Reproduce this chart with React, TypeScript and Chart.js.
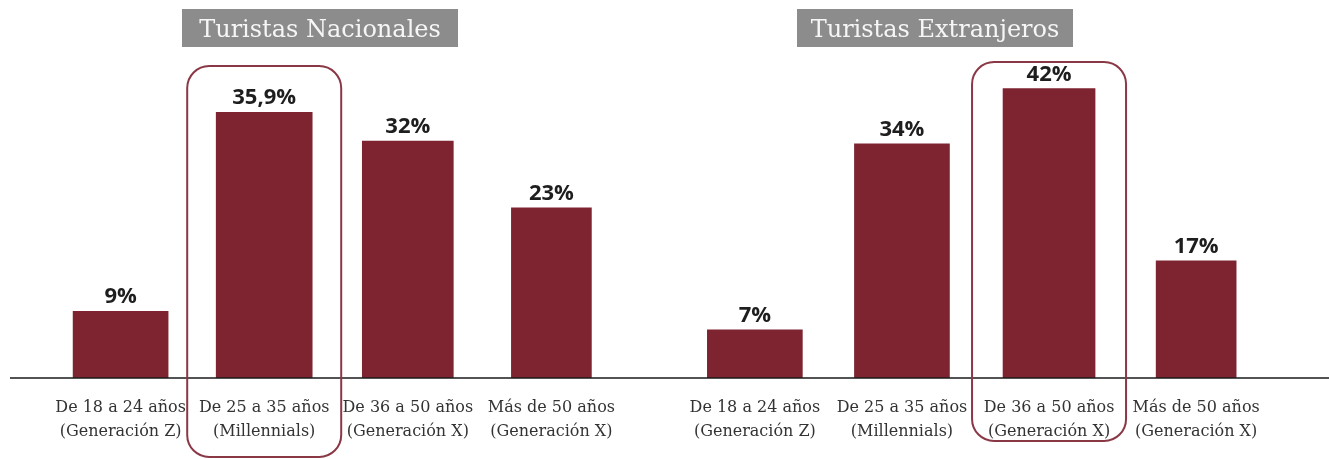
import React, { useEffect, useRef } from "react";
import { Chart, registerables } from "chart.js";

Chart.register(...registerables);

// ---------- data ----------
const categories: string[][] = [
  ["De 18 a 24 años", "(Generación Z)"],
  ["De 25 a 35 años", "(Millennials)"],
  ["De 36 a 50 años", "(Generación X)"],
  ["Más de 50 años", "(Generación X)"],
];
const nationalTitle = "Turistas Nacionales";
const nationalValues = [9, 35.9, 32, 23];
const nationalHighlight = 1;

const foreignTitle = "Turistas Extranjeros";
const foreignValues = [7, 34, 42, 17];
const foreignHighlight = 2;

// ---------- styles ----------
const BAR_COLOR = "#7e2330";
const BOX_COLOR = "#8a3845";
const TITLE_BG = "#8c8c8c";
const LABEL_FONT = "'DejaVu Serif', serif";
const VALUE_FONT = "700 22px 'Open Sans', sans-serif";

const fmt = (v: number) => String(v).replace(".", ",") + "%";

type Panel = {
  title: string;
  values: number[];
  highlight: number;
  canvasLeft: number;
  width: number;
  padLeft: number;
  padRight: number;
  padTop: number;
  yMax: number;
  barWidths: number[];
  titleBox: { x: number; y: number; w: number; h: number };
  hlTop: number;
  hlBottom: number;
  hlWidth: number;
  axisFrom: number;
};

const HEIGHT = 459;

const panels: Panel[] = [
  {
    title: nationalTitle,
    values: nationalValues,
    highlight: nationalHighlight,
    canvasLeft: 0,
    width: 664,
    padLeft: 48.8,
    padRight: 40.8,
    padTop: 82,
    yMax: 40,
    barWidths: [95, 96, 91, 80],
    titleBox: { x: 182, y: 9, w: 276, h: 38 },
    hlTop: 66,
    hlBottom: 457,
    hlWidth: 154,
    axisFrom: 10,
  },
  {
    title: foreignTitle,
    values: foreignValues,
    highlight: foreignHighlight,
    canvasLeft: 664,
    width: 665,
    padLeft: 17.3,
    padRight: 59.3,
    padTop: 68,
    yMax: 45,
    barWidths: [95, 95, 92, 80],
    titleBox: { x: 133, y: 9, w: 276, h: 38 },
    hlTop: 62,
    hlBottom: 441,
    hlWidth: 154,
    axisFrom: 0,
  },
];

function roundRect(ctx: CanvasRenderingContext2D, x: number, y: number, w: number, h: number, r: number) {
  ctx.beginPath();
  ctx.moveTo(x + r, y);
  ctx.lineTo(x + w - r, y);
  ctx.arcTo(x + w, y, x + w, y + r, r);
  ctx.lineTo(x + w, y + h - r);
  ctx.arcTo(x + w, y + h, x + w - r, y + h, r);
  ctx.lineTo(x + r, y + h);
  ctx.arcTo(x, y + h, x, y + h - r, r);
  ctx.lineTo(x, y + r);
  ctx.arcTo(x, y, x + r, y, r);
  ctx.closePath();
}

function makeChart(canvas: HTMLCanvasElement, p: Panel) {
  const decor = {
    id: "decor",
    beforeDraw(chart: any) {
      const ctx = chart.ctx as CanvasRenderingContext2D;
      ctx.save();
      ctx.fillStyle = "#ffffff";
      ctx.fillRect(0, 0, chart.width, chart.height);
      const t = p.titleBox;
      ctx.fillStyle = TITLE_BG;
      ctx.fillRect(t.x, t.y, t.w, t.h);
      ctx.fillStyle = "#f6f6f6";
      ctx.font = "24px " + LABEL_FONT;
      ctx.textAlign = "center";
      ctx.textBaseline = "alphabetic";
      ctx.fillText(p.title, t.x + t.w / 2, t.y + 28);
      ctx.restore();
    },
    afterDatasetsDraw(chart: any) {
      const ctx = chart.ctx as CanvasRenderingContext2D;
      const area = chart.chartArea;
      ctx.save();
      // axis line
      ctx.strokeStyle = "#1a1a1a";
      ctx.lineWidth = 1.5;
      ctx.beginPath();
      ctx.moveTo(p.axisFrom, area.bottom);
      ctx.lineTo(chart.width, area.bottom);
      ctx.stroke();
      // value labels
      ctx.font = VALUE_FONT;
      ctx.fillStyle = "#1e1e1e";
      ctx.textAlign = "center";
      ctx.textBaseline = "alphabetic";
      chart.data.datasets.forEach((ds: any, di: number) => {
        const meta = chart.getDatasetMeta(di);
        meta.data.forEach((el: any, i: number) => {
          const v = ds.data[i];
          if (v == null) return;
          ctx.fillText(fmt(v), el.x, el.y - 8);
        });
      });
      // highlight box
      const cx = chart.scales.x.getPixelForValue(p.highlight);
      ctx.strokeStyle = BOX_COLOR;
      ctx.lineWidth = 2;
      roundRect(ctx, cx - p.hlWidth / 2, p.hlTop, p.hlWidth, p.hlBottom - p.hlTop, 22);
      ctx.stroke();
      ctx.restore();
    },
  };

  return new Chart(canvas, {
    type: "bar",
    data: {
      labels: categories,
      datasets: p.values.map((v, i) => ({
        data: p.values.map((x, j) => (j === i ? x : null)),
        backgroundColor: BAR_COLOR,
        barThickness: p.barWidths[i],
        grouped: false,
      })),
    },
    options: {
      responsive: false,
      animation: false,
      layout: { padding: { left: p.padLeft, right: p.padRight, top: p.padTop, bottom: 0 } },
      plugins: {
        legend: { display: false },
        tooltip: { enabled: false },
        title: { display: false },
      },
      scales: {
        x: {
          grid: { display: false, drawTicks: false },
          border: { display: false },
          ticks: {
            color: "#333333",
            font: { family: LABEL_FONT, size: 16, lineHeight: 1.5 },
            padding: 18,
            autoSkip: false,
            maxRotation: 0,
            minRotation: 0,
          },
          afterFit: (s: any) => {
            s.height = HEIGHT - 378;
          },
        },
        y: {
          display: false,
          min: 0,
          max: p.yMax,
        },
      },
    } as any,
    plugins: [decor],
  });
}

export default function App() {
  const leftRef = useRef<HTMLCanvasElement>(null);
  const rightRef = useRef<HTMLCanvasElement>(null);

  useEffect(() => {
    const charts: Chart[] = [];
    if (leftRef.current) charts.push(makeChart(leftRef.current, panels[0]));
    if (rightRef.current) charts.push(makeChart(rightRef.current, panels[1]));
    return () => charts.forEach((c) => c.destroy());
  }, []);

  return (
    <div style={{ position: "absolute", left: 0, top: 0, width: 1329, height: HEIGHT, background: "#fff" }}>
      <canvas
        ref={leftRef}
        width={panels[0].width}
        height={HEIGHT}
        style={{ position: "absolute", left: panels[0].canvasLeft, top: 0, width: panels[0].width, height: HEIGHT }}
      />
      <canvas
        ref={rightRef}
        width={panels[1].width}
        height={HEIGHT}
        style={{ position: "absolute", left: panels[1].canvasLeft, top: 0, width: panels[1].width, height: HEIGHT }}
      />
    </div>
  );
}
